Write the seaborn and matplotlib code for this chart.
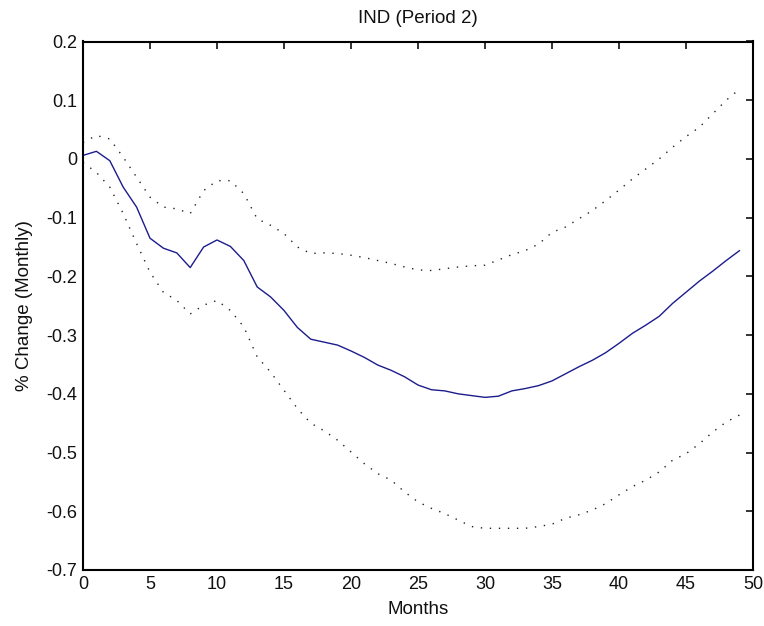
import numpy as np
import pandas as pd
import matplotlib
matplotlib.use("Agg")
import matplotlib.pyplot as plt
import seaborn as sns

months = list(range(50))
response = [0.006, 0.013, -0.003, -0.048, -0.082, -0.135, -0.152, -0.160, -0.185, -0.150,
            -0.138, -0.149, -0.173, -0.218, -0.235, -0.258, -0.287, -0.307, -0.312, -0.317,
            -0.327, -0.338, -0.351, -0.360, -0.371, -0.385, -0.393, -0.395, -0.400, -0.403,
            -0.406, -0.404, -0.395, -0.391, -0.386, -0.378, -0.366, -0.354, -0.343, -0.330,
            -0.314, -0.297, -0.283, -0.268, -0.246, -0.227, -0.208, -0.191, -0.173, -0.156]
upper = [0.028, 0.040, 0.034, 0.003, -0.031, -0.065, -0.082, -0.085, -0.093, -0.054,
         -0.037, -0.037, -0.059, -0.102, -0.113, -0.127, -0.150, -0.161, -0.160, -0.161,
         -0.164, -0.168, -0.173, -0.178, -0.184, -0.189, -0.190, -0.187, -0.184, -0.182,
         -0.181, -0.172, -0.163, -0.156, -0.145, -0.125, -0.116, -0.102, -0.088, -0.071,
         -0.053, -0.034, -0.017, 0.000, 0.020, 0.038, 0.054, 0.077, 0.100, 0.119]
lower = [-0.006, -0.023, -0.048, -0.093, -0.144, -0.193, -0.227, -0.241, -0.264, -0.249,
         -0.241, -0.258, -0.286, -0.337, -0.363, -0.394, -0.425, -0.450, -0.463, -0.479,
         -0.499, -0.519, -0.536, -0.547, -0.567, -0.584, -0.595, -0.604, -0.615, -0.626,
         -0.629, -0.629, -0.629, -0.629, -0.626, -0.622, -0.612, -0.606, -0.598, -0.587,
         -0.572, -0.558, -0.547, -0.533, -0.513, -0.502, -0.485, -0.465, -0.448, -0.436]

title = "IND (Period 2)"
xlabel = "Months"
ylabel = "% Change (Monthly)"
xticks = [0, 5, 10, 15, 20, 25, 30, 35, 40, 45, 50]
yticks = [-0.7, -0.6, -0.5, -0.4, -0.3, -0.2, -0.1, 0, 0.1, 0.2]
yticklabels = ["-0.7", "-0.6", "-0.5", "-0.4", "-0.3", "-0.2", "-0.1", "0", "0.1", "0.2"]

df = pd.DataFrame({"Months": months, "resp": response, "upper": upper, "lower": lower})

sns.set_style("white")
plt.rcParams['font.family'] = ['Liberation Sans', 'DejaVu Sans']
plt.rcParams['text.color'] = '#111111'

fig = plt.figure(figsize=(7.64, 6.26), dpi=100)
ax = fig.add_axes([83/764, 1 - 570/626, (753 - 83)/764, (570 - 41.5)/626])

sns.lineplot(data=df, x="Months", y="upper", ax=ax, color="#222222", lw=1.0,
             linestyle=(0, (1, 5.5)))
sns.lineplot(data=df, x="Months", y="lower", ax=ax, color="#222222", lw=1.0,
             linestyle=(0, (1, 5.5)))
sns.lineplot(data=df, x="Months", y="resp", ax=ax, color="#1c1c8c", lw=1.0)

ax.set_xlim(0, 50)
ax.set_ylim(-0.7, 0.2)
ax.set_xticks(xticks)
ax.set_xticklabels([str(t) for t in xticks])
ax.set_yticks(yticks)
ax.set_yticklabels(yticklabels)
ax.tick_params(direction="in", length=5, width=1.2, top=True, right=True,
               labelsize=13, colors="#111111", pad=4)
for s in ax.spines.values():
    s.set_visible(True)
    s.set_color("black")
    s.set_linewidth(1.5)

ax.set_title(title, fontsize=13.5, pad=13, color="#111111")
ax.set_xlabel(xlabel, fontsize=13.5, labelpad=6, color="#111111")
ax.set_ylabel(ylabel, fontsize=13.5, labelpad=10, color="#111111")

fig.savefig("out.png", dpi=100, facecolor="white")
